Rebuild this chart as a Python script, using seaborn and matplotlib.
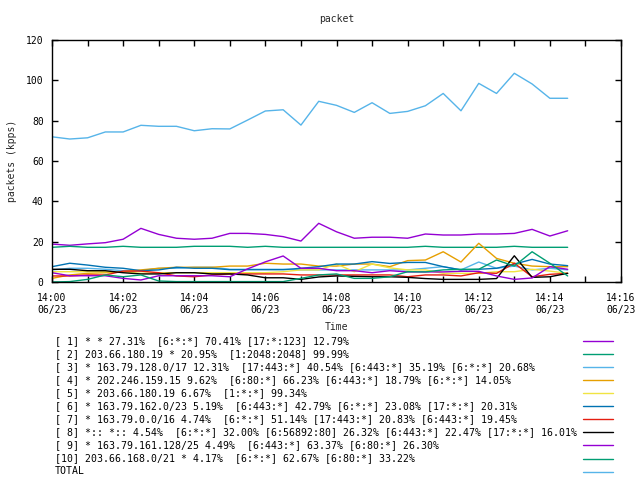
import numpy as np
import pandas as pd
import seaborn as sns
import matplotlib
matplotlib.use("Agg")
import matplotlib.pyplot as plt
from matplotlib.lines import Line2D

# ---- data (30-second samples starting 14:00, minutes after 14:00) ----
minutes = [i * 0.5 for i in range(30)]

s1 = [18.8, 18.2, 18.9, 19.5, 21.2, 26.6, 23.6, 21.7, 21.2, 21.7, 24.1, 24.1, 23.6, 22.5, 20.3,
      29.1, 24.9, 21.7, 22.2, 22.2, 21.7, 23.8, 23.3, 23.3, 23.8, 23.8, 24.1, 26.1, 22.8, 25.4]
s2 = [17.2, 17.7, 17.2, 17.2, 17.7, 17.2, 17.2, 17.2, 17.7, 17.7, 17.7, 17.2, 17.7, 17.2, 17.2,
      17.2, 17.2, 17.2, 17.2, 17.2, 17.2, 17.7, 17.2, 17.2, 17.2, 17.2, 17.7, 17.2, 17.2, 17.2]
s3 = [6.0, 6.8, 6.8, 6.3, 5.6, 5.6, 6.8, 6.8, 7.3, 7.3, 6.3, 6.3, 6.3, 6.3, 6.0,
      6.0, 6.0, 6.0, 6.0, 6.0, 6.0, 6.8, 7.6, 6.0, 9.9, 6.8, 7.9, 6.0, 6.8, 6.0]
s4 = [1.8, 3.5, 4.3, 4.6, 5.1, 6.0, 6.8, 7.3, 7.3, 7.3, 7.9, 7.9, 9.3, 8.9, 8.9,
      7.9, 7.9, 8.9, 8.9, 7.6, 10.6, 10.9, 15.0, 9.9, 19.2, 11.7, 9.3, 7.9, 7.6, 7.6]
s5 = [5.1, 5.1, 5.1, 5.1, 5.1, 4.3, 4.6, 4.6, 4.6, 4.6, 4.6, 4.6, 4.6, 5.1, 6.0,
      6.0, 8.9, 5.1, 8.9, 7.0, 6.0, 6.0, 4.3, 4.3, 4.3, 5.1, 5.1, 6.3, 5.4, 4.3]
s6 = [7.6, 9.3, 8.4, 7.3, 6.8, 5.6, 6.0, 7.3, 6.8, 6.8, 6.1, 6.1, 6.1, 6.1, 6.8,
      7.6, 8.9, 8.9, 10.1, 9.2, 9.7, 9.7, 7.6, 6.0, 6.3, 6.8, 8.9, 11.2, 8.9, 8.1]
s7 = [3.0, 3.0, 3.5, 3.5, 5.4, 5.4, 4.6, 3.0, 2.6, 3.5, 4.0, 4.0, 4.0, 4.0, 3.5,
      3.5, 3.5, 3.5, 3.5, 3.5, 2.6, 3.5, 3.5, 3.0, 4.6, 4.3, 9.3, 2.6, 3.8, 4.3]
s8 = [6.3, 6.3, 5.6, 5.6, 4.6, 4.0, 4.0, 4.6, 4.6, 4.0, 4.0, 3.5, 2.1, 2.1, 1.3,
      2.5, 3.0, 2.8, 2.6, 2.6, 2.3, 1.7, 1.3, 1.3, 1.3, 1.7, 13.0, 2.3, 2.6, 4.3]
s9 = [4.6, 3.1, 3.1, 3.1, 1.8, 1.0, 3.1, 3.1, 3.1, 3.1, 2.6, 6.5, 10.0, 12.9, 6.8,
      6.8, 5.6, 5.6, 4.6, 5.6, 5.0, 5.0, 5.0, 5.3, 5.3, 3.0, 1.3, 2.0, 7.6, 6.3]
s10 = [0.0, 0.2, 1.3, 3.5, 2.6, 3.5, 0.5, 0.2, 0.2, 0.2, 0.2, 0.2, 0.2, 0.2, 1.8,
       3.5, 4.0, 1.8, 1.8, 2.6, 5.1, 5.0, 6.0, 6.3, 6.3, 10.9, 7.9, 15.0, 9.3, 3.0]
total = [72.0, 70.9, 71.5, 74.4, 74.4, 77.7, 77.2, 77.2, 75.0, 76.0, 75.9, 80.3, 84.8, 85.4, 77.8,
         89.6, 87.6, 84.1, 88.9, 83.6, 84.6, 87.4, 93.5, 84.9, 98.5, 93.5, 103.5, 98.2, 91.1, 91.1]

series_labels = [
    "[ 1] * * 27.31%  [6:*:*] 70.41% [17:*:123] 12.79%",
    "[ 2] 203.66.180.19 * 20.95%  [1:2048:2048] 99.99%",
    "[ 3] * 163.79.128.0/17 12.31%  [17:443:*] 40.54% [6:443:*] 35.19% [6:*:*] 20.68%",
    "[ 4] * 202.246.159.15 9.62%  [6:80:*] 66.23% [6:443:*] 18.79% [6:*:*] 14.05%",
    "[ 5] * 203.66.180.19 6.67%  [1:*:*] 99.34%",
    "[ 6] * 163.79.162.0/23 5.19%  [6:443:*] 42.79% [6:*:*] 23.08% [17:*:*] 20.31%",
    "[ 7] * 163.79.0.0/16 4.74%  [6:*:*] 51.14% [17:443:*] 20.83% [6:443:*] 19.45%",
    "[ 8] *:: *:: 4.54%  [6:*:*] 32.00% [6:56892:80] 26.32% [6:443:*] 22.47% [17:*:*] 16.01%",
    "[ 9] * 163.79.161.128/25 4.49%  [6:443:*] 63.37% [6:80:*] 26.30%",
    "[10] 203.66.168.0/21 * 4.17%  [6:*:*] 62.67% [6:80:*] 33.22%",
    "TOTAL",
]
series_values = [s1, s2, s3, s4, s5, s6, s7, s8, s9, s10, total]
colors = ["#9400D3", "#009E73", "#56B4E9", "#E69F00", "#F0E442", "#0072B2",
          "#E51E10", "#000000", "#9400D3", "#009E73", "#56B4E9"]

xtick_pos = [0, 2, 4, 6, 8, 10, 12, 14, 16]
xtick_labels = ["14:00\n06/23", "14:02\n06/23", "14:04\n06/23", "14:06\n06/23", "14:08\n06/23",
                "14:10\n06/23", "14:12\n06/23", "14:14\n06/23", "14:16\n06/23"]
yticks = [0, 20, 40, 60, 80, 100, 120]

# ---- build long table ----
rows = []
for lab, vals in zip(series_labels, series_values):
    for m, v in zip(minutes, vals):
        rows.append({"minute": m, "value": v, "series": lab})
df = pd.DataFrame(rows)

sns.set_theme(style="white")
FONT = ["DejaVu Sans Mono"]
plt.rcParams["font.family"] = FONT
FS = 7
LFS = 7.12

fig = plt.figure(figsize=(6.4, 4.8), dpi=100)
ax = fig.add_axes([52 / 640, 1 - 282 / 480, (621 - 52) / 640, (282 - 40) / 480])

sns.lineplot(data=df, x="minute", y="value", hue="series", hue_order=series_labels,
             palette=colors, legend=False, ax=ax, linewidth=1.0, estimator=None, sort=True)

ax.set_xlim(0, 16)
ax.set_ylim(0, 120)
ax.set_xticks(xtick_pos)
ax.set_xticklabels(xtick_labels, fontsize=FS, linespacing=1.25)
ax.set_xticks(np.arange(1, 16, 2), minor=True)
ax.set_yticks(yticks)
ax.set_yticklabels([str(v) for v in yticks], fontsize=FS)
ax.tick_params(axis="both", which="both", direction="in", top=True, right=True,
               bottom=True, left=True, length=4, width=1, color="black", colors="black")
ax.tick_params(axis="x", which="major", pad=8)
ax.tick_params(axis="y", which="major", pad=6)
for sp in ax.spines.values():
    sp.set_color("black")
    sp.set_linewidth(1)
    sp.set_visible(True)

ax.set_title("packet", fontsize=FS, pad=13)
ax.set_xlabel("Time", fontsize=FS)
ax.set_ylabel("packets (kpps)", fontsize=FS)
ax.xaxis.set_label_coords(0.5, -(327 - 282) / 242, transform=ax.transAxes)
ax.yaxis.set_label_coords(-(52 - 12) / 569, 0.5, transform=ax.transAxes)
ax.xaxis.label.set_va("center")
ax.yaxis.label.set_va("center")

# legend text rows + keys
handles = [Line2D([], [], color=c, linewidth=1.0) for c in colors]
for k, lab in enumerate(series_labels):
    fig.text(55 / 640, 1 - (341 + 13 * k) / 480, lab, fontsize=LFS, va="center", ha="left",
             color="black")
leg = fig.legend(handles, [""] * len(handles), loc="upper left",
                 bbox_to_anchor=(583 / 640, 1 - 336 / 480), frameon=False,
                 fontsize=FS, handlelength=3.1, handletextpad=0.0, borderpad=0,
                 borderaxespad=0, labelspacing=0.32)

fig.savefig("out.png", dpi=100, facecolor="white")
